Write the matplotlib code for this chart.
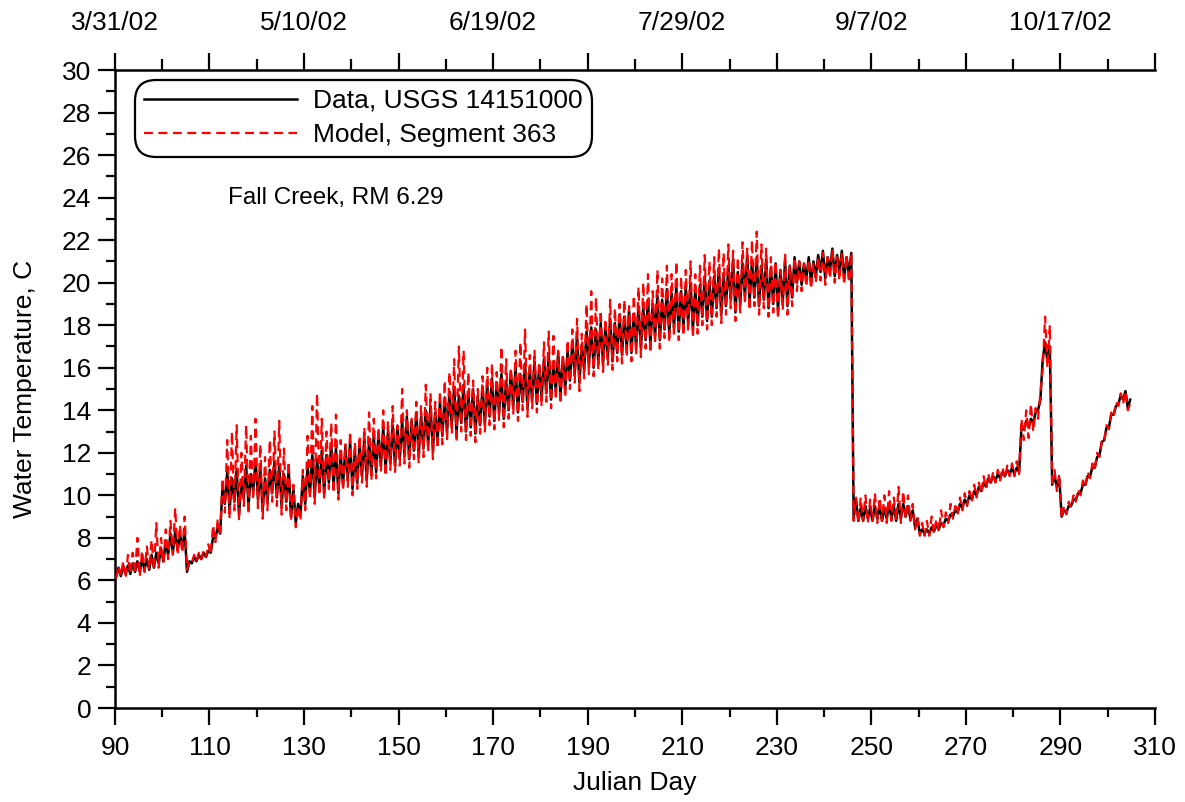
import numpy as np
import matplotlib
matplotlib.use("Agg")
import matplotlib.pyplot as plt
from matplotlib.ticker import MultipleLocator, FixedLocator, FixedFormatter

plt.rcParams['font.family'] = ['Liberation Sans', 'DejaVu Sans']

first_day = 90  # daily values start at Julian day 90

data_lo = [6.2, 6.2, 6.3, 6.3, 6.4, 6.4, 6.5, 6.5, 6.6, 6.8, 6.9, 7.2, 7.3, 7.4, 7.5,
           6.4, 6.8, 6.9, 7.0, 7.1, 7.3, 8.0, 8.2,
           9.6, 9.3, 9.7, 9.1, 9.9, 9.5, 10.2, 9.8, 9.3, 9.7, 10.1, 9.9, 9.5, 9.7, 9.0, 8.7,
           9.1, 9.6, 10.1, 9.9, 10.3, 10.1, 10.6, 10.4, 10.1, 10.5, 10.7, 10.3, 10.6, 10.9, 10.7, 11.0,
           11.1, 11.4, 11.2, 11.5, 11.4, 11.7,
           11.9, 11.7, 12.1, 11.9, 12.2, 12.4, 12.1, 12.6, 12.8, 13.0, 13.3, 12.9, 13.4, 13.0, 13.2,
           12.9, 13.3, 13.4, 13.7, 13.5, 13.9, 13.6, 14.0, 14.2, 13.9, 14.4, 14.1, 14.5, 14.3, 14.6,
           14.8, 14.5, 14.9, 14.7, 15.0, 15.4, 15.7, 15.3, 15.9, 16.1, 16.0, 16.3, 16.2, 16.5, 16.3,
           16.7, 16.6, 16.9, 16.7,
           17.0, 16.9, 17.3, 17.1, 17.5, 17.3, 17.8, 17.6, 17.9, 17.7, 17.9, 18.1, 17.8, 18.0, 18.4,
           18.2, 18.4, 18.8, 18.5, 18.9, 19.2, 18.6, 19.0, 19.4, 19.1, 19.3, 18.9, 19.2, 18.8, 19.0,
           18.7, 19.1, 18.9, 19.3,
           20.0, 19.9, 20.2, 20.0, 20.3, 20.5, 20.2, 20.6, 20.3, 20.5, 20.2, 20.4,
           8.9, 8.8, 8.8, 8.9, 8.8, 8.9, 8.8, 8.9, 8.9, 8.8, 8.9, 9.0, 8.9,
           8.5, 8.2, 8.2, 8.2, 8.3, 8.4, 8.6, 8.8, 9.0, 9.2, 9.4, 9.6, 9.8, 10.0, 10.2, 10.4, 10.6,
           10.7, 10.8, 10.9, 11.0, 11.0, 11.1, 13.1, 13.2, 13.4, 14.0, 16.4, 16.3, 10.5, 10.4, 9.0,
           9.2, 9.5, 9.8, 10.1, 10.5, 10.9, 11.3, 11.9, 12.6, 13.2, 13.8, 14.3, 14.5, 14.1]

data_hi = [6.6, 6.7, 6.7, 6.8, 6.9, 7.0, 7.0, 7.2, 7.3, 7.5, 7.8, 8.2, 8.3, 8.2, 8.3,
           6.9, 7.1, 7.2, 7.3, 7.4, 8.0, 8.5, 10.4,
           11.1, 10.8, 11.2, 10.6, 11.4, 11.0, 11.7, 11.3, 10.8, 11.2, 11.6, 11.4, 11.0, 11.2, 10.3, 9.6,
           10.9, 11.4, 11.9, 11.7, 12.1, 11.9, 12.4, 12.2, 11.9, 12.3, 12.5, 12.1, 12.4, 12.7, 12.5, 12.8,
           12.9, 13.2, 13.0, 13.3, 13.2, 13.5,
           13.7, 13.5, 13.9, 13.7, 14.0, 14.2, 13.9, 14.4, 14.6, 14.8, 15.1, 14.7, 15.2, 14.8, 15.0,
           14.7, 15.1, 15.2, 15.5, 15.3, 15.7, 15.4, 15.8, 16.0, 15.7, 16.2, 15.9, 16.3, 16.1, 16.4,
           16.6, 16.3, 16.7, 16.5, 16.8, 17.2, 17.5, 17.1, 17.7, 17.9, 17.8, 18.1, 18.0, 18.3, 18.1,
           18.5, 18.4, 18.7, 18.5,
           18.9, 18.8, 19.2, 19.0, 19.4, 19.2, 19.7, 19.5, 19.8, 19.6, 19.8, 20.0, 19.7, 19.9, 20.3,
           20.1, 20.3, 20.7, 20.4, 20.8, 21.1, 20.5, 20.9, 21.3, 21.0, 21.2, 20.8, 21.1, 20.7, 20.9,
           20.6, 21.0, 20.8, 21.2,
           21.0, 20.9, 21.2, 21.0, 21.3, 21.5, 21.2, 21.6, 21.3, 21.5, 21.2, 21.4,
           9.8, 9.4, 9.5, 9.4, 9.5, 9.5, 9.4, 9.6, 9.5, 9.6, 9.6, 9.5, 9.3,
           8.9, 8.4, 8.4, 8.5, 8.6, 8.7, 8.9, 9.1, 9.3, 9.6, 9.8, 10.0, 10.2, 10.4, 10.6, 10.8, 10.9,
           11.0, 11.1, 11.2, 11.3, 11.3, 13.2, 13.5, 13.6, 13.9, 14.5, 17.2, 17.0, 10.9, 10.8, 9.3,
           9.5, 9.8, 10.1, 10.5, 10.9, 11.3, 11.8, 12.5, 13.2, 13.8, 14.2, 14.7, 14.9, 14.5]

model_lo = [6.1, 6.2, 6.1, 6.3, 6.3, 6.2, 6.4, 6.5, 6.5, 6.6, 6.8, 7.0, 7.2, 7.2, 7.3,
            6.5, 6.8, 6.9, 7.0, 7.1, 7.2, 7.8, 8.1,
            9.2, 8.9, 9.3, 8.8, 9.5, 9.1, 9.8, 9.4, 8.9, 9.3, 9.7, 9.5, 9.1, 9.3, 8.8, 8.5,
            8.8, 9.3, 9.8, 9.6, 10.0, 9.8, 10.3, 10.1, 9.8, 10.2, 10.4, 10.0, 10.3, 10.6, 10.4, 10.7,
            10.8, 11.1, 10.9, 11.2, 11.1, 11.4,
            11.5, 11.3, 11.7, 11.5, 11.8, 12.0, 11.7, 12.2, 12.4, 12.6, 12.9, 12.5, 13.0, 12.6, 12.8,
            12.5, 12.9, 13.0, 13.3, 13.1, 13.5, 13.2, 13.6, 13.8, 13.5, 14.0, 13.7, 14.1, 13.9, 14.2,
            14.4, 14.1, 14.5, 14.3, 14.6, 15.0, 15.3, 14.9, 15.5, 15.7, 15.6, 15.9, 15.8, 16.1, 15.9,
            16.3, 16.2, 16.5, 16.3,
            16.6, 16.5, 16.9, 16.7, 17.1, 16.9, 17.4, 17.2, 17.5, 17.3, 17.5, 17.7, 17.4, 17.6, 18.0,
            17.8, 18.0, 18.4, 18.1, 18.5, 18.8, 18.2, 18.6, 19.0, 18.7, 18.9, 18.5, 18.8, 18.4, 18.6,
            18.3, 18.7, 18.5, 18.9,
            19.6, 19.6, 19.8, 19.7, 20.0, 20.1, 19.9, 20.2, 20.0, 20.1, 19.9, 20.0,
            8.8, 8.7, 8.8, 8.7, 8.8, 8.7, 8.8, 8.7, 8.8, 8.8, 8.7, 8.9, 8.8,
            8.4, 8.1, 8.1, 8.1, 8.2, 8.3, 8.5, 8.7, 8.9, 9.1, 9.3, 9.5, 9.7, 9.9, 10.1, 10.3, 10.5,
            10.6, 10.7, 10.8, 10.9, 10.9, 11.0, 12.6, 12.7, 13.0, 13.6, 16.0, 16.0, 10.4, 10.2, 8.9,
            9.1, 9.4, 9.7, 10.0, 10.4, 10.8, 11.2, 11.8, 12.5, 13.1, 13.7, 14.2, 14.3, 14.0]

model_hi = [6.7, 6.9, 7.2, 7.3, 8.0, 7.4, 7.6, 7.9, 8.7, 8.0, 8.4, 8.8, 9.4, 8.6, 9.0,
            6.9, 7.2, 7.3, 7.4, 7.7, 8.6, 8.9, 10.8,
            12.6, 13.0, 13.3, 12.0, 13.3, 12.8, 13.6, 12.4, 11.8, 12.6, 13.0, 13.5, 12.2, 11.6, 10.5, 9.5,
            11.2, 12.8, 14.2, 14.8, 13.6, 13.0, 13.4, 13.8, 12.6, 12.4, 13.0, 12.5, 12.8, 13.2, 13.9, 13.6,
            13.2, 14.0, 13.5, 14.2, 13.3, 15.0,
            14.0, 13.6, 14.4, 14.2, 15.2, 14.8, 14.4, 14.9, 15.4, 15.8, 16.4, 17.0, 16.8, 15.8, 15.4,
            15.0, 15.6, 16.0, 16.2, 15.8, 17.0, 16.4, 16.0, 16.8, 17.2, 17.8, 16.6, 16.8, 16.2, 17.2,
            17.7, 17.5, 16.8, 16.5, 17.3, 17.8, 18.3, 17.6, 19.0, 19.6, 19.3, 18.7, 18.3, 19.2, 18.8,
            19.0, 19.2, 18.9, 19.4,
            19.8, 20.0, 20.4, 19.6, 20.6, 20.2, 20.8, 20.4, 21.0, 20.3, 20.6, 21.0, 20.4, 20.8, 21.3,
            21.0, 21.2, 21.6, 21.4, 21.8, 21.5, 21.2, 21.9, 21.6, 22.0, 22.4, 21.8, 21.6, 21.2, 21.0,
            20.6, 21.4, 20.8, 21.2,
            21.0, 20.9, 21.1, 20.9, 21.2, 21.4, 21.2, 21.6, 21.2, 21.4, 21.3, 21.4,
            9.9, 9.9, 10.0, 9.8, 10.1, 9.9, 10.0, 10.2, 9.9, 10.4, 10.2, 10.0, 9.6,
            9.0, 8.7, 8.8, 9.0, 8.9, 9.3, 9.2, 9.6, 9.5, 9.9, 10.1, 10.2, 10.5, 10.6, 10.9, 11.0, 11.1,
            11.2, 11.3, 11.4, 11.5, 11.6, 13.6, 14.0, 14.3, 14.1, 14.8, 18.4, 18.0, 11.2, 11.0, 9.5,
            9.7, 10.0, 10.3, 10.7, 11.1, 11.5, 12.0, 12.6, 13.3, 13.9, 14.4, 14.8, 14.9, 14.3]

day_ticks = [90, 110, 130, 150, 170, 190, 210, 230, 250, 270, 290, 310]
date_labels = ['3/31/02', '', '5/10/02', '', '6/19/02', '', '7/29/02', '', '9/7/02', '', '10/17/02', '']

assert len(data_lo) == len(data_hi) == len(model_lo) == len(model_hi)

days = np.arange(first_day, first_day + len(data_lo))


def zigzag(lo, hi):
    x = np.column_stack([days + 0.25, days + 0.75]).ravel()
    y = np.column_stack([lo, hi]).ravel()
    return x, y


FS = 19

fig = plt.figure(figsize=(11.85, 8.02), dpi=100)
ax = fig.add_axes([0.0970, 0.1172, 0.8777, 0.7955])

xd, yd = zigzag(data_lo, data_hi)
xm, ym = zigzag(model_lo, model_hi)
ax.plot(xd, yd, color='black', lw=1.8, label='Data, USGS 14151000', zorder=2)
ax.plot(xm, ym, color='#ff0000', lw=1.6, dashes=(4, 2.5), label='Model, Segment 363', zorder=3)

ax.set_xlim(90, 310)
ax.set_ylim(0, 30)
ax.xaxis.set_major_locator(FixedLocator(day_ticks))
ax.xaxis.set_minor_locator(MultipleLocator(10))
ax.yaxis.set_major_locator(MultipleLocator(2))
ax.yaxis.set_minor_locator(MultipleLocator(1))
ax.tick_params(which='major', direction='out', length=12, width=1.6, labelsize=FS)
ax.tick_params(axis='x', which='major', pad=8)
ax.tick_params(axis='y', which='major', pad=5)
ax.tick_params(which='minor', direction='out', length=6.5, width=1.6)
for s in ax.spines.values():
    s.set_linewidth(1.8)
ax.spines['right'].set_visible(False)

ax.set_xlabel('Julian Day', fontsize=FS, labelpad=8)
ax.set_ylabel('Water Temperature, C', fontsize=FS, labelpad=18)

top = ax.twiny()
top.set_xlim(ax.get_xlim())
top.xaxis.set_major_locator(FixedLocator(day_ticks))
top.xaxis.set_major_formatter(FixedFormatter(date_labels))
top.xaxis.set_minor_locator(MultipleLocator(10))
top.tick_params(which='major', direction='out', length=12, width=1.6, labelsize=FS, pad=13)
top.tick_params(which='minor', direction='out', length=8, width=1.6)
for s in top.spines.values():
    s.set_visible(False)

ax.text(114, 24, 'Fall Creek, RM 6.29', fontsize=17.5, ha='left', va='center')

leg = ax.legend(loc='upper left', bbox_to_anchor=(0.019, 0.985), fontsize=FS,
                handlelength=5.8, handletextpad=0.6, labelspacing=0.4,
                borderpad=0.35, borderaxespad=0, fancybox=True, framealpha=1,
                edgecolor='black')
leg.get_frame().set_linewidth(1.6)
leg.get_frame().set_boxstyle('round', pad=0, rounding_size=0.8)

fig.savefig('out.png', dpi=100)
